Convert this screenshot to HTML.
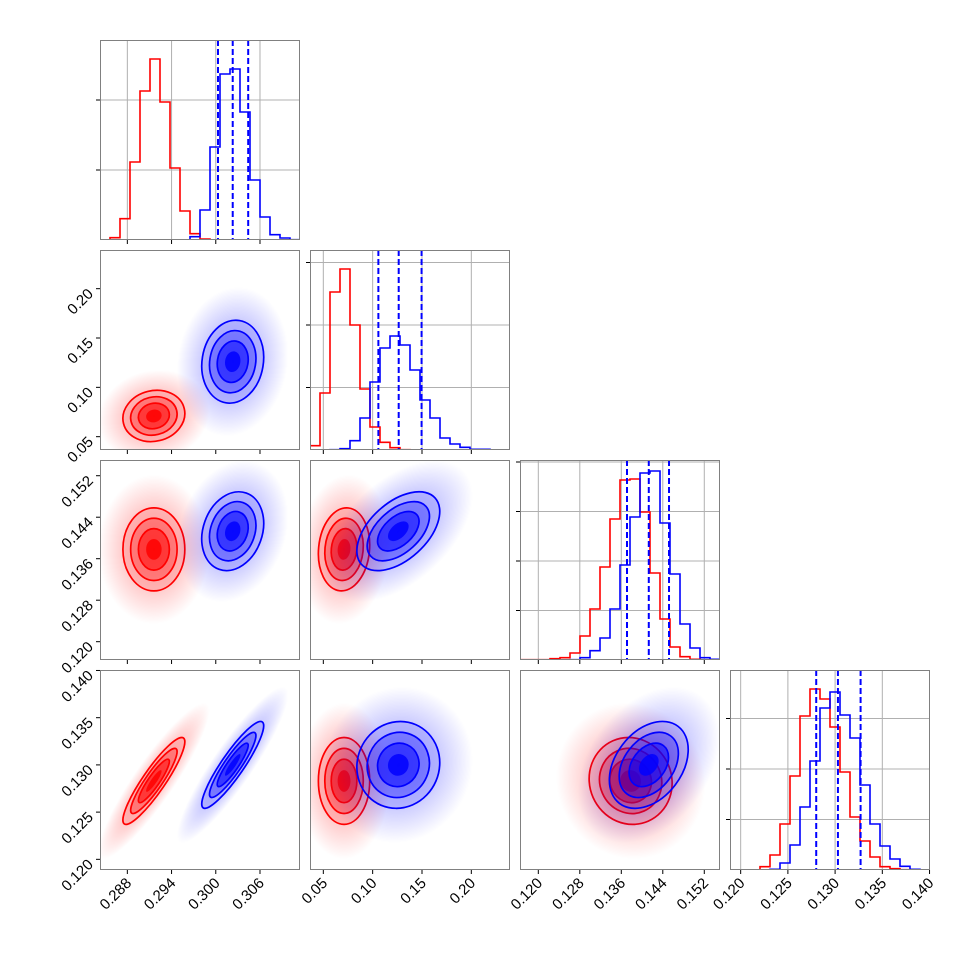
<!DOCTYPE html>
<html><head><meta charset="utf-8"><style>
html,body{margin:0;padding:0;background:#fff;}
svg{display:block;font-family:"Liberation Sans",sans-serif;}
</style></head><body>
<svg id="fig" width="970" height="970" viewBox="0 0 970 970"></svg>
<script>
// ---- data ----
const paramLo = [0.28429, 0.0365, 0.11647, 0.11887];
const paramHi = [0.31143, 0.2392, 0.15503, 0.14005];
const tickVals = [[0.288,0.294,0.300,0.306],[0.05,0.10,0.15,0.20],[0.120,0.128,0.136,0.144,0.152],[0.120,0.125,0.130,0.135,0.140]];
const tickLabels = [["0.288","0.294","0.300","0.306"],["0.05","0.10","0.15","0.20"],["0.120","0.128","0.136","0.144","0.152"],["0.120","0.125","0.130","0.135","0.140"]];
const redMeans = [0.2916, 0.071, 0.1378, 0.1283];
const blueMeans = [0.3023, 0.126, 0.1413, 0.1300];
const redSds = [0.0021, 0.013, 0.0040, 0.0023];
const blueSds = [0.0021, 0.021, 0.0038, 0.0023];
const pairs = [[0,1],[0,2],[1,2],[0,3],[1,3],[2,3]];
const redRho = [0.1, 0.0, 0.1, 0.9, 0.0, -0.05];
const blueRho = [0.1, 0.2, 0.5, 0.9, 0.05, 0.35];
const redHist = [
 [0,2.3,21.3,78,149,181,138,72,29,6.3,1,0,0,0,0,0,0,0,0,0],
 [4.3,57,158,181,125,61,23,7.7,2.3,0.3,0,0,0,0,0,0,0,0,0,0],
 [0.3,0.3,0.3,1.3,2.3,7,24,51,93,141,180,181,148,87,41,13,3.3,0.7,0,0],
 [0,0,0,3.3,15,46,94,154,181,171,143,98,53,29,13,3.3,1.3,0.3,0,0]];
const blueHist = [
 [0,0,0,0,0,0,0,0,0,3.3,30,93,166,171,128,60,23,5.3,2,0.3],
 [0,0,0.3,1.3,9.3,32,68,102,114,105,80,50,32,12,6,2.7,0.7,0.7,0,0],
 [0,0,0,0,0,0.3,2.3,9.3,22,51,95,143,187,189,137,86,36,12,2.3,0.7],
 [0,0,0,0,0.7,7,25,63,109,162,178,155,132,85,46,24,11,3.7,0.7,0]];
const blueQuantiles = [[0.3003,0.3023,0.3044],[0.1058,0.1264,0.1496],[0.1371,0.1413,0.1452],[0.1280,0.1303,0.1327]];
const histGridStep = [70, 62.5, 49.5, 50.5];

// ---- layout ----
const NS="http://www.w3.org/2000/svg";
const svg=document.getElementById('fig');
const X0=[100,310,520,730], Y0=[40,250,460,670], S=200;
function sx(p,v){return X0[p]+(v-paramLo[p])/(paramHi[p]-paramLo[p])*S;}
function sy(p,row,v){return Y0[row]+S-(v-paramLo[p])/(paramHi[p]-paramLo[p])*S;}
function mk(tag,attrs,parent){const e=document.createElementNS(NS,tag);for(const k in attrs)e.setAttribute(k,attrs[k]);(parent||svg).appendChild(e);return e;}

const defs=mk('defs',{});
[['red','255,0,0'],['blue','0,0,255']].forEach(([n,c])=>{
  const g=mk('radialGradient',{id:'cloud-'+n},defs);
  mk('stop',{offset:'0','stop-color':`rgb(${c})`,'stop-opacity':'0.35'},g);
  mk('stop',{offset:'0.55','stop-color':`rgb(${c})`,'stop-opacity':'0.2'},g);
  mk('stop',{offset:'1','stop-color':`rgb(${c})`,'stop-opacity':'0'},g);
});
for(let r=0;r<4;r++)for(let c=0;c<=r;c++){
  const cp=mk('clipPath',{id:`clip-${r}-${c}`},defs);
  mk('rect',{x:X0[c],y:Y0[r],width:S,height:S},cp);
}

function ellipse(g,col,row,px,py,meanA,meanB,sdA,sdB,rho,k,attrs){
  const cx=sx(px,meanA), cy=sy(py,row,meanB);
  const sa=sdA/(paramHi[px]-paramLo[px])*S, sb=sdB/(paramHi[py]-paramLo[py])*S;
  const a=sa*sa, c=sb*sb, b=-rho*sa*sb;
  const m=(a+c)/2, d=Math.sqrt(((a-c)/2)**2+b*b);
  const th=0.5*Math.atan2(2*b,a-c)*180/Math.PI;
  const e=mk('ellipse',Object.assign({cx:cx,cy:cy,rx:Math.sqrt(m+d)*k,ry:Math.sqrt(Math.max(m-d,0.01))*k,transform:`rotate(${th} ${cx} ${cy})`},attrs),g);
  return e;
}

// ---- 2D panels ----
pairs.forEach((pr,i)=>{
  const [px,py]=pr, col=px, row=py;
  const g=mk('g',{'clip-path':`url(#clip-${row}-${col})`});
  
  
  [['red',redMeans,redSds,redRho,'#ff0000'],['blue',blueMeans,blueSds,blueRho,'#0000ff']].forEach(([n,M,SD,R,clr])=>{
    const args=[g,col,row,px,py,M[px],M[py],SD[px],SD[py],R[i]];
    const cl=ellipse(...args,3.6,{fill:`url(#cloud-${n})`});
    
    
    [[2,0.12],[1.5,0.28],[1,0.5],[0.5,0.85]].forEach(([k,op])=>{
      const f=ellipse(...args,k,{fill:clr,'fill-opacity':op});
      
      
    });
    [2,1.5,1].forEach(k=>{
      const l=ellipse(...args,k,{fill:'none',stroke:clr,'stroke-width':1.7});
      
      
    });
  });
});

// ---- histograms ----
for(let p=0;p<4;p++){
  const g=mk('g',{'clip-path':`url(#clip-${p}-${p})`});
  
  
  const x0=X0[p], yb=Y0[p]+S;
  for(let y=yb-histGridStep[p];y>Y0[p];y-=histGridStep[p]){
    mk('line',{x1:x0,x2:x0+S,y1:y,y2:y,stroke:'#b0b0b0','stroke-width':1},g);
    mk('line',{x1:x0-4,x2:x0,y1:y,y2:y,stroke:'#000','stroke-width':1});
  }
  tickVals[p].forEach(v=>{const x=sx(p,v);mk('line',{x1:x,x2:x,y1:Y0[p],y2:yb,stroke:'#b0b0b0','stroke-width':1},g);});
  [[redHist[p],'#ff0000','red'],[blueHist[p],'#0000ff','blue']].forEach(([h,clr,n])=>{
    const bw=S/h.length; let d=`M${x0} ${yb}`;
    h.forEach((v,k)=>{d+=` L${x0+k*bw} ${yb-v} L${x0+(k+1)*bw} ${yb-v}`;});
    d+=` L${x0+S} ${yb}`;
    const path=mk('path',{d:d,fill:'none',stroke:clr,'stroke-width':1.6},g);
    
    
  });
  blueQuantiles[p].forEach(q=>{
    const x=sx(p,q);
    const l=mk('line',{x1:x,x2:x,y1:Y0[p],y2:yb,stroke:'#0000ff','stroke-width':2,'stroke-dasharray':'6,3'},g);
    
    
  });
}

// ---- frames, ticks, labels ----
for(let r=0;r<4;r++)for(let c=0;c<=r;c++){
  const fr=mk('rect',{x:X0[c]+0.5,y:Y0[r]+0.5,width:S-1,height:S-1,fill:'none',stroke:'#808080','stroke-width':1});
  
  
  tickVals[c].forEach(v=>{const x=sx(c,v);mk('line',{x1:x,x2:x,y1:Y0[r]+S,y2:Y0[r]+S+4,stroke:'#000','stroke-width':1});});
  if(r!==c && c===0){
    tickVals[r].forEach((v,k)=>{
      const y=sy(r,r,v);
      mk('line',{x1:X0[0]-4,x2:X0[0],y1:y,y2:y,stroke:'#000','stroke-width':1});
      const t=mk('text',{x:X0[0]-6,y:y+6,'text-anchor':'end','font-size':15,transform:`rotate(-45 ${X0[0]-6} ${y+6})`});
      t.textContent=tickLabels[r][k];
      
      
    });
  }
  if(r===3){
    tickVals[c].forEach((v,k)=>{
      const x=sx(c,v);
      const t=mk('text',{x:x+5,y:884,'text-anchor':'end','font-size':15,transform:`rotate(-45 ${x+5} 884)`});
      t.textContent=tickLabels[c][k];
      
      
    });
  }
}
</script>
</body></html>
